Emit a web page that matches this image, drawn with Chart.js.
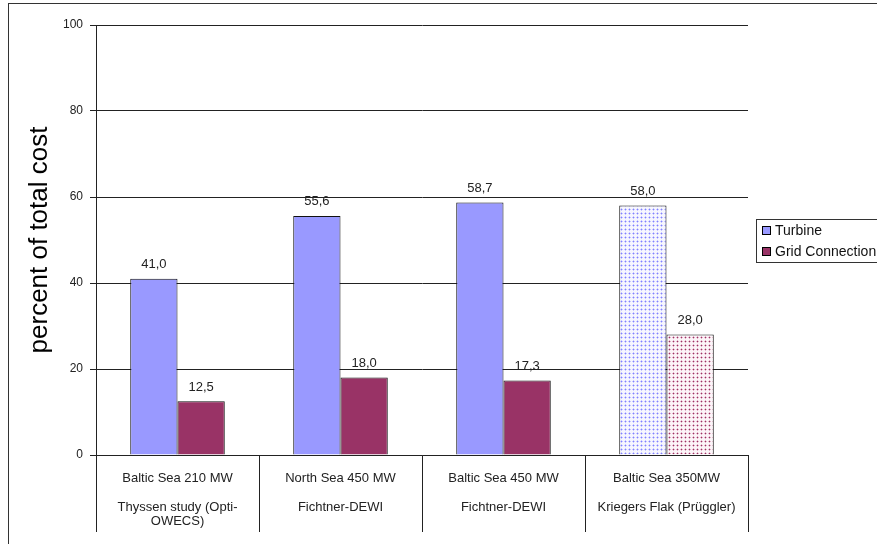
<!DOCTYPE html>
<html>
<head>
<meta charset="utf-8">
<script src="https://cdn.jsdelivr.net/npm/chart.js@4/dist/chart.umd.min.js"></script>
<style>
  body { margin: 0; background: #fff; }
</style>
</head>
<body>
<canvas id="costChart" width="877" height="544"></canvas>
<script>
// wind farm cost shares, two series per project
const categories = [
    ['Baltic Sea 210 MW', '', 'Thyssen study (Opti-', 'OWECS)'],
    ['North Sea 450 MW', '', 'Fichtner-DEWI'],
    ['Baltic Sea 450 MW', '', 'Fichtner-DEWI'],
    ['Baltic Sea 350MW', '', 'Kriegers Flak (Prüggler)']
];
const turbine = [41.0, 55.6, 58.7, 58.0];
const gridConnection = [12.5, 18.0, 17.3, 28.0];
const seriesNames = ['Turbine', 'Grid Connection'];
const yMin = 0, yMax = 100, yStep = 20;

const FONT = '"Liberation Sans", Arial, sans-serif';
const TURBINE_COLOR = '#9999ff';
const GRID_COLOR = '#993366';

let canvas = document.getElementById('costChart');
let ctx = canvas.getContext('2d');

// dotted fill used for the last project: small plus-shaped dots on a 4px grid
function dotPattern(dot, halo, paper) {
    const tile = document.createElement('canvas');
    tile.width = 4;
    tile.height = 4;
    const g = tile.getContext('2d');
    g.fillStyle = paper;
    g.fillRect(0, 0, 4, 4);
    g.fillStyle = halo;
    g.fillRect(0, 1, 3, 1);
    g.fillRect(1, 0, 1, 3);
    g.fillStyle = dot;
    g.fillRect(1, 1, 1, 1);
    return ctx.createPattern(tile, 'repeat');
}

const turbineDots = dotPattern('#8080ff', '#c8c8ff', '#f6f6ff');
const gridDots = dotPattern('#993366', '#e2b4c8', '#fcf4f8');

const extras = {
    id: 'extras',
    afterDatasetsDraw(chart) {
        const c = chart.ctx;
        c.save();
        c.font = '13px ' + FONT;
        c.fillStyle = '#222';
        c.textAlign = 'center';
        c.textBaseline = 'middle';
        chart.data.datasets.forEach((ds, i) => {
            chart.getDatasetMeta(i).data.forEach((bar, j) => {
                c.fillText(ds.data[j].toFixed(1).replace('.', ','), bar.x, bar.y - 14);
            });
        });
        c.restore();
    },
    afterDraw(chart) {
        const c = chart.ctx;
        c.save();
        // frame round the whole figure
        c.strokeStyle = '#333';
        c.lineWidth = 1;
        c.strokeRect(8.5, 3.5, 900, 600);

        // legend box
        c.strokeRect(756.5, 219.5, 140, 43);
        const fills = [TURBINE_COLOR, GRID_COLOR];
        c.font = '14px ' + FONT;
        c.textAlign = 'left';
        c.textBaseline = 'middle';
        seriesNames.forEach((name, i) => {
            const y = 231 + i * 21;
            c.fillStyle = fills[i];
            c.fillRect(762.5, y - 4.5, 8, 8);
            c.strokeStyle = '#000';
            c.strokeRect(762.5, y - 4.5, 8, 8);
            c.fillStyle = '#111';
            c.fillText(name, 775, y);
        });
        c.restore();
    }
};

var myChart = new Chart(ctx, {
    type: 'bar',
    data: {
        labels: categories,
        datasets: [{
            label: seriesNames[0],
            data: turbine,
            backgroundColor: (c) => c.dataIndex === 3 ? turbineDots : TURBINE_COLOR,
            borderColor: '#111',
            borderWidth: 1
        }, {
            label: seriesNames[1],
            data: gridConnection,
            backgroundColor: (c) => c.dataIndex === 3 ? gridDots : GRID_COLOR,
            borderColor: '#111',
            borderWidth: 1
        }]
    },
    options: {
        responsive: false,
        animation: false,
        barPercentage: 1,
        categoryPercentage: 0.58,
        layout: {
            padding: { left: 26, top: 25, right: 129, bottom: 0 }
        },
        plugins: {
            legend: { display: false },
            tooltip: { enabled: false }
        },
        scales: {
            x: {
                afterFit: (scale) => { scale.height = 89; },
                grid: {
                    offset: true,
                    drawOnChartArea: false,
                    tickLength: 77,
                    color: '#222'
                },
                border: { color: '#222' },
                ticks: {
                    padding: -61,
                    color: '#222',
                    font: { family: FONT, size: 13, lineHeight: '14.5px' }
                }
            },
            y: {
                min: yMin,
                max: yMax,
                afterFit: (scale) => { scale.width = 70; },
                grid: {
                    color: '#222',
                    tickLength: 6
                },
                border: { color: '#222' },
                ticks: {
                    stepSize: yStep,
                    padding: 7,
                    color: '#222',
                    font: { family: FONT, size: 12 }
                },
                title: {
                    display: true,
                    text: 'percent of total cost',
                    color: '#000',
                    padding: 1,
                    font: { family: FONT, size: 26, lineHeight: 1 }
                }
            }
        }
    },
    plugins: [extras]
});
</script>
</body>
</html>
